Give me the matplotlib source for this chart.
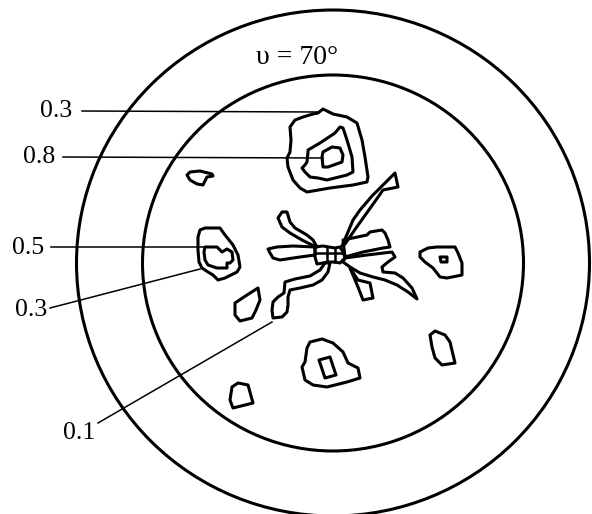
import matplotlib
matplotlib.use("Agg")
import matplotlib.pyplot as plt
from matplotlib.patches import Ellipse, Polygon
import numpy as np

# ---- data (pole-figure frame, y grows downward) ----
center = (333, 263)
circle_sizes = [(513, 506), (381, 376)]          # outer (90 deg) and inner (70 deg) circle diameters
title_text = "\u03c5 = 70\u00b0"
title_pos = (297, 58)

label_texts = ["0.3", "0.8", "0.5", "0.3", "0.1"]
label_pos = [(72, 111), (55, 157), (44, 248), (47, 310), (79, 433)]
label_ha = ["right", "right", "right", "right", "center"]
leader_start = [(82, 111), (63, 157), (51, 247), (50, 308), (98, 423)]
leader_end = [(318, 112), (323, 158), (205, 247), (200, 269), (272, 322)]

# iso-density contours (closed)
top_outer = [(318, 113), (323, 109), (333, 114), (347, 117), (357, 123), (362, 140), (365, 157),
             (368, 177), (367, 182), (353, 185), (330, 188), (307, 192), (300, 188), (293, 180),
             (288, 167), (287, 158), (290, 152), (291, 140), (290, 127), (295, 120), (303, 117), (313, 114)]
top_mid = [(308, 150), (320, 143), (335, 133), (340, 127), (343, 128), (347, 140), (352, 157),
           (353, 172), (347, 175), (327, 180), (318, 178), (310, 177), (305, 172), (302, 168),
           (305, 165), (307, 162), (308, 152)]
top_inner = [(322, 157), (323, 152), (332, 147), (340, 148), (343, 155), (342, 162), (328, 167), (323, 167)]
blob_tl = [(187, 175), (190, 172), (200, 171), (212, 174), (213, 176), (207, 177), (203, 185),
           (197, 184), (190, 180)]
left_outer = [(200, 230), (205, 228), (220, 228), (225, 235), (233, 245), (238, 255), (240, 267),
              (237, 272), (225, 278), (218, 280), (213, 275), (208, 272), (202, 268), (199, 262),
              (198, 250), (198, 237)]
left_inner = [(205, 247), (217, 247), (222, 252), (227, 249), (232, 252), (233, 260), (230, 263),
              (227, 263), (227, 268), (217, 268), (208, 265), (205, 260), (204, 252)]
arm_nw = [(278, 218), (282, 212), (287, 212), (290, 222), (295, 228), (307, 235), (313, 240),
          (317, 247), (312, 245), (302, 240), (290, 233), (282, 227)]
arm_w = [(268, 249), (277, 247), (293, 246), (315, 247), (315, 255), (300, 257), (280, 260),
         (273, 258), (270, 253)]
core = [(315, 247), (323, 246), (335, 248), (340, 247), (343, 252), (345, 258), (340, 263),
        (335, 262), (328, 262), (323, 263), (317, 264), (315, 257)]
arm_ne = [(342, 246), (348, 232), (353, 220), (360, 210), (372, 196), (395, 173), (398, 187),
          (383, 190), (376, 200), (366, 214), (356, 228), (345, 244)]
arm_e = [(343, 240), (367, 235), (370, 232), (382, 230), (385, 233), (388, 240), (390, 247),
         (383, 248), (363, 252), (345, 257)]
arm_e_lower = [(345, 258), (367, 255), (392, 252), (395, 257), (388, 262), (382, 267), (383, 272),
               (395, 273), (403, 278), (412, 288), (417, 299), (408, 292), (397, 285), (385, 280),
               (373, 277), (360, 273), (350, 267), (343, 262)]
arm_se = [(350, 268), (358, 280), (370, 283), (373, 298), (363, 300), (358, 287)]
arm_sw = [(330, 263), (328, 272), (322, 280), (313, 285), (300, 288), (290, 290), (288, 297),
          (288, 305), (287, 312), (282, 317), (273, 318), (272, 310), (273, 302), (278, 297),
          (284, 293), (285, 282), (295, 279), (310, 276), (320, 270), (325, 263)]
blob_sw = [(235, 303), (247, 295), (258, 288), (260, 300), (256, 310), (252, 318), (240, 321), (235, 315)]
right_outer = [(420, 252), (428, 248), (437, 247), (455, 247), (458, 253), (462, 263), (462, 275),
               (447, 278), (440, 277), (433, 268), (425, 262), (420, 257)]
right_inner = [(440, 257), (447, 257), (447, 262), (441, 262)]
bottom_outer = [(310, 342), (322, 339), (333, 343), (343, 352), (348, 363), (358, 368), (360, 378),
                (347, 382), (327, 387), (313, 385), (305, 380), (302, 367), (305, 362), (307, 348)]
bottom_inner = [(319, 360), (330, 357), (336, 375), (325, 378)]
blob_bl = [(232, 387), (238, 383), (248, 385), (253, 403), (233, 408), (230, 400)]
blob_br = [(430, 335), (435, 331), (445, 335), (450, 342), (455, 363), (442, 365), (435, 358), (432, 347)]

contours = [top_outer, top_mid, top_inner, blob_tl, left_outer, left_inner, arm_nw, arm_w, core,
            arm_ne, arm_e, arm_e_lower, arm_se, arm_sw, blob_sw, right_outer, right_inner,
            bottom_outer, bottom_inner, blob_bl, blob_br]

# core grid lines
grid_v = [(327, 247, 262), (335, 248, 262)]
grid_h = [(253, 315, 343)]

# ---- drawing ----
fig = plt.figure(figsize=(5.92, 5.14), dpi=100)
ax = fig.add_axes([0, 0, 1, 1])
ax.set_xlim(0, 592)
ax.set_ylim(514, 0)
ax.axis("off")

for (w, h) in circle_sizes:
    ax.add_patch(Ellipse(center, w, h, fill=False, lw=2.2, ec="black"))

for c in contours:
    ax.add_patch(Polygon(np.array(c), closed=True, fill=False, lw=2.2, ec="black", joinstyle="round"))

for x, y0, y1 in grid_v:
    ax.plot([x, x], [y0, y1], color="black", lw=1.8)
for y, x0, x1 in grid_h:
    ax.plot([x0, x1], [y, y], color="black", lw=1.8)

for s, e in zip(leader_start, leader_end):
    ax.plot([s[0], e[0]], [s[1], e[1]], color="black", lw=1.1)

fam = ["Liberation Serif", "DejaVu Serif"]
for t, p, ha in zip(label_texts, label_pos, label_ha):
    ax.text(p[0], p[1], t, ha=ha, va="center", fontsize=18.5, family=fam)

ax.text(title_pos[0], title_pos[1], title_text, ha="center", va="center", fontsize=20, family=fam)

fig.savefig("out.png", dpi=100)
